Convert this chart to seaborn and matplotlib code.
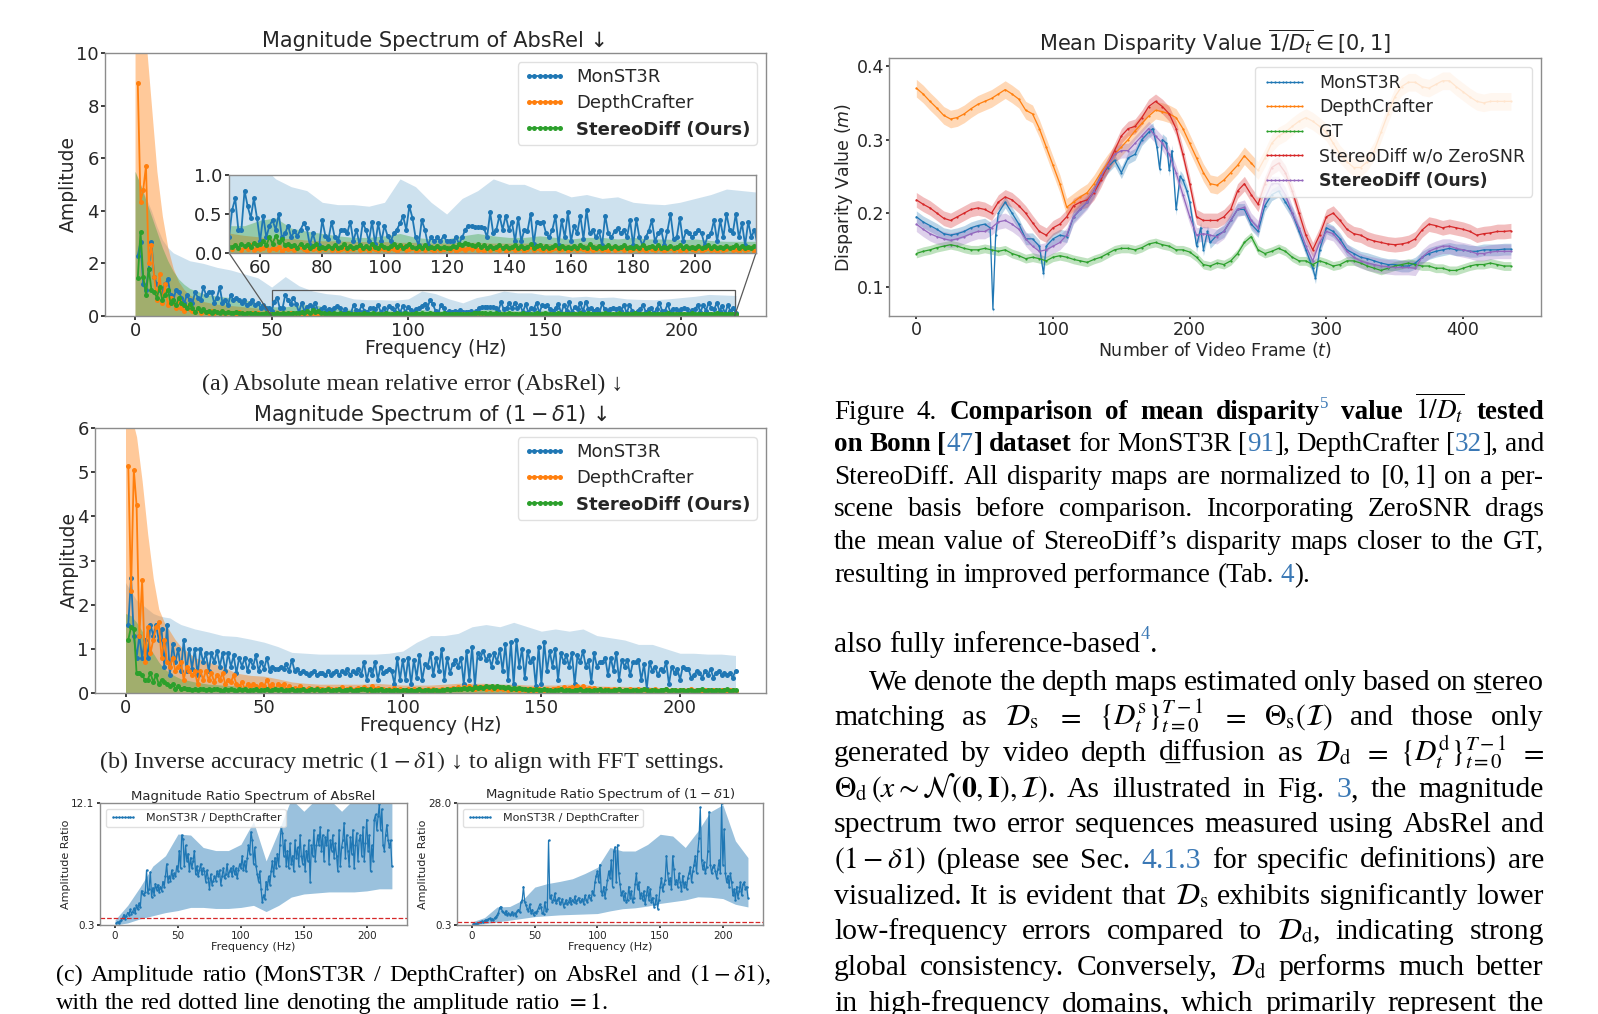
import matplotlib
matplotlib.use("Agg")
import matplotlib.pyplot as plt
import seaborn as sns
from matplotlib.ticker import FormatStrFormatter
from mpl_toolkits.axes_grid1.inset_locator import mark_inset

# ------------------------------------------------------------------ data
FREQ = list(range(1, 221))
BAND_FREQ = [0, 2, 4, 6, 8, 10, 12, 14, 16, 18, 20] + list(range(25, 221, 5))
RATIO_BAND_FREQ = list(range(0, 221, 10))

MONST3R_ABSREL = [
    2.3, 2.8, 1.2, 1.0, 1.8, 2.8, 1.5, 1.2, 1.0, 0.9,
    1.2, 1.4, 0.8, 0.6, 1.0, 0.9, 0.7, 0.5, 0.8, 0.6,
    0.5, 0.9, 0.7, 0.6, 1.1, 0.8, 0.9, 0.9, 0.5, 0.7,
    1.1, 0.5, 0.6, 0.4, 0.8, 0.6, 0.7, 0.6, 0.5, 0.6,
    0.4, 0.5, 0.6, 0.4, 0.5, 0.3, 0.4, 0.3, 0.3,
    0.2, 0.55, 0.7, 0.3, 0.3, 0.8, 0.6, 0.45, 0.7, 0.45,
    0.15, 0.48, 0.2, 0.35, 0.42, 0.3, 0.5, 0.2, 0.25, 0.35,
    0.2, 0.28, 0.22, 0.3, 0.38, 0.32, 0.1, 0.25, 0.1, 0.1,
    0.42, 0.22, 0.18, 0.4, 0.2, 0.15, 0.3, 0.3, 0.25, 0.4,
    0.15, 0.3, 0.1, 0.38, 0.3, 0.15, 0.4, 0.12, 0.38, 0.15,
    0.35, 0.22, 0.15, 0.25, 0.3, 0.38, 0.47, 0.3, 0.6, 0.45,
    0.2, 0.1, 0.42, 0.3, 0.1, 0.2, 0.15, 0.2, 0.15, 0.22,
    0.15, 0.15, 0.15, 0.2, 0.12, 0.2, 0.3, 0.35, 0.35, 0.33,
    0.33, 0.33, 0.32, 0.2, 0.52, 0.25, 0.3, 0.48, 0.3, 0.48,
    0.3, 0.4, 0.15, 0.45, 0.15, 0.3, 0.28, 0.5, 0.12, 0.4,
    0.38, 0.4, 0.25, 0.2, 0.3, 0.47, 0.1, 0.42, 0.2, 0.52,
    0.15, 0.35, 0.25, 0.48, 0.18, 0.55, 0.25, 0.3, 0.2, 0.28,
    0.1, 0.48, 0.25, 0.2, 0.28, 0.32, 0.25, 0.3, 0.2, 0.42,
    0.1, 0.43, 0.2, 0.1, 0.2, 0.28, 0.42, 0.15, 0.25, 0.3,
    0.1, 0.28, 0.5, 0.18, 0.2, 0.45, 0.15, 0.28, 0.25, 0.2,
    0.25, 0.3, 0.25, 0.1, 0.22, 0.25, 0.42, 0.15, 0.42, 0.2,
    0.5, 0.3, 0.25, 0.5, 0.2, 0.38, 0.1, 0.4, 0.2, 0.3,
    0.1]
DEPTHCRAFTER_ABSREL = [
    8.85, 4.35, 4.8, 5.7, 2.0, 2.7, 1.5, 0.6, 1.6, 0.5,
    1.2, 0.4, 0.7, 0.5, 0.3, 0.6, 0.3, 0.2, 0.35, 0.25,
    0.2, 0.15, 0.25, 0.1, 0.2, 0.15, 0.1, 0.2, 0.1, 0.15,
    0.1, 0.2, 0.08, 0.15, 0.1, 0.12, 0.08, 0.15, 0.1, 0.08,
    0.12, 0.08, 0.1, 0.06, 0.12, 0.08, 0.05, 0.1, 0.06, 0.08,
    0.05, 0.1, 0.06, 0.04, 0.08, 0.05, 0.1, 0.04, 0.07, 0.05,
    0.06, 0.09, 0.04, 0.07, 0.05, 0.08, 0.03, 0.06, 0.05, 0.07,
    0.04, 0.06, 0.08, 0.05, 0.03, 0.06, 0.05, 0.07, 0.04, 0.06,
    0.05, 0.08, 0.04, 0.06, 0.03, 0.05, 0.07, 0.04, 0.06, 0.05,
    0.08, 0.04, 0.05, 0.06, 0.03, 0.07, 0.05, 0.04, 0.06, 0.05,
    0.04, 0.07, 0.05, 0.03, 0.06, 0.08, 0.04, 0.05, 0.06, 0.03,
    0.05, 0.07, 0.04, 0.06, 0.05, 0.03, 0.06, 0.04, 0.05, 0.07,
    0.04, 0.06, 0.03, 0.05, 0.07, 0.04, 0.06, 0.05, 0.08, 0.04,
    0.05, 0.03, 0.06, 0.04, 0.07, 0.05, 0.04, 0.06, 0.03, 0.05,
    0.07, 0.04, 0.05, 0.06, 0.03, 0.05, 0.08, 0.04, 0.06, 0.05,
    0.04, 0.06, 0.03, 0.05, 0.07, 0.04, 0.05, 0.06, 0.03, 0.05,
    0.06, 0.04, 0.07, 0.05, 0.03, 0.06, 0.04, 0.05, 0.07, 0.04,
    0.05, 0.03, 0.06, 0.04, 0.05, 0.07, 0.04, 0.06, 0.03, 0.05,
    0.06, 0.04, 0.05, 0.03, 0.07, 0.05, 0.04, 0.06, 0.05, 0.03,
    0.05, 0.06, 0.04, 0.07, 0.03, 0.05, 0.04, 0.06, 0.05, 0.04,
    0.06, 0.03, 0.05, 0.07, 0.04, 0.05, 0.03, 0.06, 0.04, 0.05,
    0.07, 0.04, 0.05, 0.03, 0.06, 0.04, 0.05, 0.06, 0.03, 0.05]
STEREODIFF_ABSREL = [
    1.45, 3.2, 1.5, 0.8, 1.8, 1.0, 0.9, 0.7, 1.1, 0.6,
    0.8, 1.0, 0.5, 0.6, 0.4, 0.7, 0.5, 0.4, 0.3, 0.45,
    0.3, 0.15, 0.3, 0.2, 0.25, 0.15, 0.2, 0.12, 0.18, 0.15,
    0.12, 0.18, 0.1, 0.15, 0.12, 0.1, 0.14, 0.1, 0.12, 0.08,
    0.1, 0.12, 0.08, 0.1, 0.07, 0.09, 0.08, 0.1, 0.06, 0.08,
    0.08, 0.1, 0.07, 0.12, 0.09, 0.11, 0.08, 0.13, 0.1, 0.12,
    0.15, 0.1, 0.2, 0.12, 0.22, 0.14, 0.18, 0.1, 0.12, 0.09,
    0.1, 0.07, 0.12, 0.08, 0.1, 0.06, 0.09, 0.11, 0.07, 0.08,
    0.06, 0.09, 0.07, 0.1, 0.06, 0.08, 0.12, 0.07, 0.09, 0.06,
    0.08, 0.1, 0.06, 0.09, 0.07, 0.11, 0.08, 0.06, 0.1, 0.08,
    0.07, 0.09, 0.11, 0.08, 0.1, 0.07, 0.09, 0.12, 0.08, 0.06,
    0.09, 0.07, 0.1, 0.06, 0.08, 0.07, 0.09, 0.06, 0.08, 0.07,
    0.06, 0.09, 0.08, 0.11, 0.1, 0.13, 0.12, 0.1, 0.09, 0.11,
    0.08, 0.1, 0.07, 0.09, 0.06, 0.08, 0.1, 0.07, 0.09, 0.06,
    0.08, 0.1, 0.07, 0.09, 0.06, 0.08, 0.11, 0.07, 0.09, 0.1,
    0.07, 0.09, 0.06, 0.08, 0.1, 0.07, 0.09, 0.06, 0.08, 0.07,
    0.09, 0.06, 0.1, 0.08, 0.07, 0.11, 0.08, 0.06, 0.09, 0.07,
    0.08, 0.1, 0.06, 0.09, 0.07, 0.08, 0.1, 0.06, 0.08, 0.07,
    0.09, 0.07, 0.1, 0.06, 0.08, 0.09, 0.07, 0.1, 0.06, 0.08,
    0.07, 0.09, 0.06, 0.08, 0.1, 0.07, 0.09, 0.06, 0.08, 0.07,
    0.09, 0.06, 0.08, 0.1, 0.07, 0.09, 0.06, 0.08, 0.07, 0.09,
    0.06, 0.08, 0.1, 0.07, 0.09, 0.06, 0.08, 0.07, 0.09, 0.08]
BAND_MONST3R_ABSREL = [5.5, 5.0, 4.5, 4.0, 3.4, 2.9, 2.6, 2.4, 2.3, 2.2, 2.1,
    2.0, 1.85, 1.75, 1.6, 1.45, 1.1, 1.5, 1.15, 0.95, 0.85,
    0.8, 0.65, 0.62, 0.62, 0.6, 0.65, 0.95, 0.85, 0.65, 0.5,
    0.7, 0.8, 0.95, 0.88, 0.88, 0.8, 0.8, 0.72, 0.75, 0.7,
    0.72, 0.65, 0.63, 0.62, 0.65, 0.7, 0.75, 0.82, 0.8, 0.78]
BAND_DEPTHCRAFTER_ABSREL = [14.0, 12.5, 10.5, 8.0, 5.5, 3.8, 2.6, 1.8, 1.3, 1.0, 0.8,
    0.55, 0.45, 0.4, 0.35, 0.3, 0.25, 0.22, 0.2, 0.18, 0.18,
    0.16, 0.15, 0.15, 0.14, 0.14, 0.14, 0.13, 0.13, 0.12, 0.12,
    0.13, 0.13, 0.12, 0.12, 0.12, 0.12, 0.11, 0.11, 0.11, 0.11,
    0.1, 0.1, 0.1, 0.1, 0.1, 0.1, 0.1, 0.1, 0.1, 0.1]
BAND_STEREODIFF_ABSREL = [5.5, 5.0, 4.4, 3.8, 3.2, 2.6, 2.1, 1.7, 1.4, 1.2, 1.05,
    0.85, 0.75, 0.7, 0.62, 0.5, 0.35, 0.35, 0.42, 0.45, 0.32,
    0.28, 0.25, 0.22, 0.2, 0.2, 0.22, 0.25, 0.2, 0.18, 0.18,
    0.22, 0.25, 0.22, 0.2, 0.2, 0.22, 0.2, 0.18, 0.2, 0.2,
    0.18, 0.2, 0.18, 0.18, 0.17, 0.18, 0.16, 0.15, 0.15, 0.15]

MONST3R_D1 = [
    1.55, 2.6, 1.3, 0.8, 1.3, 0.8, 1.2, 0.8, 1.55, 1.3,
    1.55, 1.2, 1.45, 0.6, 1.55, 0.4, 1.1, 0.7, 1.0, 0.5,
    1.2, 0.5, 1.0, 0.55, 1.0, 0.4, 1.0, 0.7, 0.9, 0.5,
    0.9, 0.7, 0.95, 0.6, 0.9, 0.5, 0.9, 0.6, 0.85, 0.45,
    0.8, 0.6, 0.8, 0.5, 0.75, 0.6, 0.85, 0.5, 0.7, 0.55,
    0.8, 0.5, 0.6, 0.55, 0.55, 0.6, 0.55, 0.65, 0.5, 0.75,
    0.5, 0.55, 0.45, 0.5, 0.45, 0.4, 0.45, 0.5, 0.4, 0.45,
    0.45, 0.4, 0.5, 0.4, 0.45, 0.5, 0.4, 0.5, 0.45, 0.55,
    0.4, 0.5, 0.45, 0.55, 0.4, 0.7, 0.3, 0.55, 0.4, 0.7,
    0.3, 0.6, 0.45, 0.5, 0.55, 0.5, 0.2, 0.8, 0.3, 0.75,
    0.3, 0.8, 0.2, 0.75, 0.35, 0.85, 0.3, 0.65, 0.6, 0.9,
    0.4, 0.8, 0.5, 1.0, 0.3, 0.8, 0.45, 0.65, 0.75, 0.6,
    0.8, 0.2, 0.95, 0.3, 1.05, 0.15, 0.9, 0.8, 0.95, 0.75,
    0.85, 0.6, 0.9, 0.7, 1.0, 0.5, 1.1, 0.3, 1.15, 0.2,
    1.2, 0.6, 1.0, 0.35, 0.95, 0.7, 0.8, 0.15, 1.05, 0.2,
    1.15, 0.5, 0.95, 0.6, 1.0, 0.3, 0.9, 0.7, 0.85, 0.6,
    0.9, 0.2, 0.85, 0.7, 0.95, 0.6, 0.75, 0.25, 0.9, 0.6,
    0.7, 0.7, 0.8, 0.4, 0.8, 0.5, 0.9, 0.3, 0.75, 0.6,
    0.75, 0.4, 0.7, 0.7, 0.75, 0.3, 0.65, 0.1, 0.7, 0.5,
    0.6, 0.4, 0.55, 0.5, 0.7, 0.2, 0.6, 0.45, 0.55, 0.3,
    0.6, 0.55, 0.55, 0.35, 0.4, 0.5, 0.45, 0.35, 0.5, 0.4,
    0.55, 0.35, 0.45, 0.5, 0.4, 0.45, 0.4, 0.45, 0.35, 0.5]
DEPTHCRAFTER_D1 = [
    5.15, 2.3, 5.05, 4.25, 1.3, 2.55, 0.7, 1.5, 0.9, 1.2,
    1.5, 1.6, 0.8, 1.2, 0.7, 0.6, 0.8, 0.5, 0.6, 0.7,
    0.3, 0.6, 0.5, 0.4, 0.5, 0.2, 0.5, 0.3, 0.5, 0.3,
    0.45, 0.25, 0.4, 0.3, 0.45, 0.2, 0.3, 0.25, 0.4, 0.2,
    0.15, 0.25, 0.1, 0.2, 0.15, 0.2, 0.15, 0.1, 0.2, 0.15,
    0.3, 0.15, 0.2, 0.1, 0.2, 0.15, 0.2, 0.1, 0.15, 0.1,
    0.12, 0.08, 0.15, 0.1, 0.07, 0.12, 0.09, 0.06, 0.11, 0.08,
    0.1, 0.07, 0.12, 0.08, 0.06, 0.1, 0.08, 0.13, 0.07, 0.09,
    0.11, 0.06, 0.09, 0.12, 0.08, 0.14, 0.1, 0.07, 0.15, 0.09,
    0.12, 0.08, 0.1, 0.06, 0.09, 0.07, 0.11, 0.06, 0.08, 0.05,
    0.07, 0.09, 0.05, 0.08, 0.06, 0.1, 0.07, 0.05, 0.09, 0.06,
    0.08, 0.05, 0.07, 0.09, 0.06, 0.1, 0.08, 0.12, 0.09, 0.13,
    0.1, 0.14, 0.11, 0.15, 0.12, 0.1, 0.14, 0.11, 0.13, 0.09,
    0.12, 0.1, 0.14, 0.08, 0.11, 0.09, 0.12, 0.07, 0.1, 0.08,
    0.09, 0.06, 0.1, 0.07, 0.08, 0.05, 0.09, 0.06, 0.08, 0.07,
    0.06, 0.09, 0.07, 0.1, 0.08, 0.11, 0.09, 0.13, 0.1, 0.12,
    0.14, 0.1, 0.16, 0.12, 0.15, 0.1, 0.12, 0.08, 0.11, 0.07,
    0.09, 0.06, 0.08, 0.1, 0.07, 0.09, 0.06, 0.08, 0.05, 0.07,
    0.06, 0.08, 0.05, 0.07, 0.09, 0.06, 0.08, 0.05, 0.07, 0.06,
    0.08, 0.05, 0.07, 0.06, 0.08, 0.05, 0.06, 0.07, 0.05, 0.06,
    0.07, 0.05, 0.06, 0.08, 0.05, 0.07, 0.06, 0.05, 0.07, 0.06,
    0.05, 0.07, 0.06, 0.05, 0.07, 0.06, 0.05, 0.06, 0.07, 0.05]
STEREODIFF_D1 = [
    1.2, 1.5, 1.45, 0.45, 0.45, 0.4, 0.3, 0.3, 0.45, 0.25,
    0.4, 0.2, 0.3, 0.25, 0.2, 0.15, 0.2, 0.1, 0.15, 0.1,
    0.12, 0.08, 0.1, 0.07, 0.09, 0.06, 0.08, 0.1, 0.07, 0.09,
    0.06, 0.08, 0.1, 0.07, 0.05, 0.08, 0.06, 0.09, 0.07, 0.05,
    0.08, 0.06, 0.09, 0.05, 0.07, 0.06, 0.08, 0.05, 0.07, 0.06,
    0.08, 0.05, 0.07, 0.09, 0.06, 0.08, 0.05, 0.07, 0.06, 0.08,
    0.05, 0.07, 0.06, 0.08, 0.05, 0.07, 0.09, 0.06, 0.08, 0.05,
    0.07, 0.06, 0.08, 0.05, 0.07, 0.06, 0.09, 0.05, 0.07, 0.06,
    0.08, 0.05, 0.07, 0.06, 0.08, 0.1, 0.06, 0.08, 0.05, 0.07,
    0.06, 0.08, 0.05, 0.07, 0.06, 0.05, 0.07, 0.06, 0.05, 0.07,
    0.06, 0.05, 0.07, 0.05, 0.06, 0.08, 0.05, 0.07, 0.06, 0.05,
    0.07, 0.06, 0.05, 0.07, 0.06, 0.08, 0.07, 0.09, 0.08, 0.1,
    0.09, 0.11, 0.1, 0.12, 0.1, 0.13, 0.11, 0.14, 0.12, 0.15,
    0.13, 0.16, 0.12, 0.15, 0.13, 0.14, 0.11, 0.13, 0.1, 0.12,
    0.09, 0.11, 0.08, 0.1, 0.07, 0.09, 0.06, 0.08, 0.07, 0.06,
    0.08, 0.06, 0.07, 0.05, 0.07, 0.06, 0.08, 0.05, 0.07, 0.06,
    0.05, 0.07, 0.06, 0.08, 0.05, 0.07, 0.06, 0.05, 0.07, 0.06,
    0.08, 0.05, 0.07, 0.06, 0.05, 0.07, 0.06, 0.08, 0.05, 0.07,
    0.06, 0.05, 0.07, 0.06, 0.05, 0.07, 0.08, 0.06, 0.05, 0.07,
    0.06, 0.05, 0.07, 0.06, 0.08, 0.05, 0.07, 0.06, 0.05, 0.07,
    0.06, 0.05, 0.07, 0.06, 0.05, 0.07, 0.06, 0.08, 0.05, 0.06,
    0.07, 0.05, 0.06, 0.07, 0.05, 0.06, 0.08, 0.05, 0.07, 0.06]
BAND_MONST3R_D1 = [2.5, 2.3, 2.1, 2.0, 1.9, 1.8, 1.75, 1.72, 1.7, 1.62, 1.55,
    1.45, 1.38, 1.3, 1.28, 1.22, 1.15, 1.05, 0.92, 0.9, 0.88,
    0.88, 0.88, 0.88, 0.88, 0.9, 0.95, 1.15, 1.3, 1.3, 1.35,
    1.5, 1.55, 1.5, 1.6, 1.5, 1.4, 1.45, 1.4, 1.45, 1.3,
    1.25, 1.2, 1.1, 1.1, 1.0, 0.9, 0.9, 0.88, 0.88, 0.85]
BAND_DEPTHCRAFTER_D1 = [6.5, 6.3, 5.8, 4.8, 3.6, 2.6, 1.9, 1.6, 1.4, 1.2, 1.05,
    0.8, 0.7, 0.6, 0.45, 0.4, 0.38, 0.32, 0.25, 0.22, 0.2,
    0.2, 0.2, 0.2, 0.22, 0.2, 0.18, 0.18, 0.18, 0.2, 0.22,
    0.22, 0.22, 0.2, 0.2, 0.18, 0.18, 0.18, 0.2, 0.2, 0.16,
    0.15, 0.15, 0.14, 0.13, 0.12, 0.12, 0.12, 0.12, 0.11, 0.1]
BAND_STEREODIFF_D1 = [1.8, 1.75, 1.6, 1.4, 1.1, 0.9, 0.7, 0.55, 0.45, 0.38, 0.32,
    0.25, 0.2, 0.18, 0.16, 0.15, 0.15, 0.15, 0.14, 0.13, 0.13,
    0.12, 0.12, 0.13, 0.12, 0.12, 0.12, 0.12, 0.12, 0.13, 0.15,
    0.18, 0.2, 0.2, 0.18, 0.14, 0.12, 0.12, 0.12, 0.11, 0.11,
    0.1, 0.1, 0.1, 0.1, 0.1, 0.1, 0.1, 0.1, 0.1, 0.1]

RATIO_ABSREL = [
    0.5, 0.6, 0.5, 0.7, 0.8, 1.0, 1.3, 0.9, 1.2, 1.5,
    1.3, 1.8, 1.4, 1.6, 1.9, 1.5, 2.2, 1.8, 2.4, 2.0,
    3.6, 3.3, 3.2, 3.5, 5.6, 3.4, 3.8, 5.4, 3.0, 3.9,
    3.2, 4.3, 3.7, 4.2, 3.5, 4.0, 3.6, 4.5, 4.0, 5.0,
    6.2, 4.5, 5.0, 4.6, 5.6, 4.8, 5.3, 5.0, 6.0, 5.5,
    7.5, 5.8, 9.0, 8.6, 6.0, 8.0, 6.5, 7.2, 5.5, 6.8,
    5.8, 6.5, 7.5, 5.2, 6.0, 5.0, 5.6, 6.2, 5.2, 5.8,
    5.5, 4.5, 5.6, 4.8, 3.8, 5.2, 4.2, 4.6, 5.0, 4.6,
    5.5, 5.0, 5.6, 4.2, 5.0, 5.8, 4.8, 5.2, 6.2, 5.0,
    5.5, 5.8, 5.0, 6.0, 5.2, 5.8, 4.8, 5.6, 6.2, 5.8,
    7.0, 5.6, 6.5, 5.5, 6.8, 8.0, 7.2, 9.3, 8.5, 6.2,
    7.8, 6.0, 5.2, 4.5, 5.5, 3.8, 2.5, 3.2, 2.8, 4.5,
    3.8, 5.0, 4.2, 5.5, 6.5, 5.0, 6.8, 5.8, 7.2, 6.0,
    8.0, 9.8, 9.2, 7.0, 8.5, 6.0, 7.5, 5.8, 8.2, 6.2,
    7.0, 5.5, 8.5, 6.8, 7.8, 6.0, 9.0, 7.0, 6.2, 8.0,
    5.5, 7.5, 6.5, 8.5, 4.5, 8.0, 7.0, 9.5, 6.5, 8.0,
    9.0, 8.0, 9.8, 7.5, 9.0, 6.5, 8.8, 8.0, 9.5, 6.2,
    8.5, 7.5, 9.0, 6.8, 8.2, 7.0, 5.5, 9.5, 6.0, 7.8,
    8.5, 10.2, 6.8, 9.0, 7.5, 6.0, 8.8, 7.2, 9.5, 5.8,
    8.0, 9.2, 6.5, 8.5, 9.0, 7.0, 9.8, 6.5, 8.2, 10.5,
    7.5, 9.0, 5.5, 8.0, 6.5, 10.5, 11.0, 9.5, 10.8, 12.0,
    9.5, 11.5, 8.0, 7.5, 9.0, 10.0, 8.5, 7.8, 8.5, 6.0]
RATIO_ABSREL_LOW = [0.3, 0.5, 0.9, 1.2, 1.5, 1.7, 2.0, 2.0, 1.9, 1.9, 2.0, 2.2,
    1.6, 2.2, 3.0, 3.3, 3.4, 3.5, 3.5, 3.5, 3.6, 3.8, 3.8]
RATIO_ABSREL_HIGH = [0.8, 2.2, 4.0, 6.0, 7.0, 9.1, 9.0, 7.8, 7.5, 7.5, 8.1, 10.3,
    6.5, 9.4, 12.5, 11.3, 12.5, 12.5, 11.3, 12.5, 12.5, 12.5, 12.5]

RATIO_D1 = [
    0.5, 0.6, 0.6, 0.7, 0.8, 0.9, 1.0, 1.2, 1.0, 1.3,
    1.5, 1.4, 1.6, 1.8, 1.5, 1.7, 1.4, 1.9, 2.2, 2.5,
    3.0, 4.2, 4.5, 3.5, 3.2, 2.8, 3.5, 2.5, 3.0, 2.6,
    2.8, 3.3, 2.6, 3.0, 2.4, 3.4, 3.8, 3.2, 5.5, 6.0,
    9.0, 5.5, 4.8, 4.0, 3.5, 5.0, 3.0, 3.8, 2.6, 3.2,
    3.0, 3.5, 4.2, 5.0, 4.5, 3.0, 2.8, 5.5, 3.5, 4.0,
    19.5, 6.5, 7.0, 5.5, 6.0, 7.5, 5.2, 6.0, 6.5, 5.0,
    5.5, 6.2, 4.5, 5.2, 6.0, 5.0, 5.5, 6.5, 5.0, 6.0,
    5.5, 6.8, 5.2, 6.0, 6.5, 5.5, 5.8, 6.2, 5.0, 7.0,
    6.0, 5.5, 7.0, 6.5, 6.0, 8.0, 7.0, 10.0, 11.5, 12.5,
    10.0, 14.0, 8.0, 7.0, 9.0, 6.5, 8.5, 10.5, 12.5, 11.0,
    15.0, 9.0, 17.0, 18.0, 10.0, 18.5, 12.0, 9.5, 7.0, 8.0,
    6.0, 7.5, 5.5, 6.0, 9.0, 6.5, 8.0, 5.5, 6.5, 9.5,
    12.0, 8.5, 10.0, 6.5, 7.5, 6.0, 8.0, 5.0, 7.0, 9.0,
    6.0, 8.5, 5.5, 6.5, 4.5, 5.0, 7.0, 4.0, 6.0, 9.0,
    11.0, 8.0, 9.5, 10.5, 16.0, 12.0, 9.5, 11.0, 8.5, 16.0,
    13.0, 9.5, 10.5, 9.0, 12.0, 10.0, 8.0, 11.5, 9.0, 10.0,
    8.5, 11.0, 12.0, 13.5, 10.0, 12.5, 14.0, 16.0, 12.0, 17.0,
    20.0, 27.0, 15.0, 13.0, 14.5, 12.0, 13.5, 17.0, 26.0, 14.0,
    12.0, 13.5, 14.0, 12.5, 11.0, 13.0, 15.0, 12.0, 28.0, 14.0,
    22.0, 12.0, 10.0, 11.5, 9.0, 12.0, 10.0, 7.0, 8.5, 6.0,
    9.0, 6.5, 8.0, 10.0, 7.0, 9.5, 10.0, 8.5, 9.0, 6.5]
RATIO_D1_LOW = [0.3, 0.6, 1.0, 1.4, 1.8, 2.2, 2.4, 2.6, 2.7, 2.8, 2.9, 3.5,
    4.0, 4.2, 4.6, 5.2, 5.6, 6.0, 6.7, 6.6, 6.3, 5.0, 4.4]
RATIO_D1_HIGH = [1.0, 2.0, 4.4, 4.5, 5.9, 8.9, 9.7, 10.2, 10.8, 12.0, 13.4, 17.9,
    17.1, 17.1, 18.6, 20.9, 20.5, 17.9, 21.6, 26.0, 27.6, 19.4, 15.6]

DISP_FRAMES = list(range(0, 440, 5))
DISP_DEPTHCRAFTER = [
    0.370, 0.362, 0.352, 0.343, 0.333, 0.328, 0.330, 0.335, 0.342, 0.348,
    0.352, 0.356, 0.362, 0.368, 0.362, 0.355, 0.340, 0.335, 0.315, 0.290,
    0.265, 0.240, 0.208, 0.215, 0.222, 0.228, 0.240, 0.255, 0.268, 0.280,
    0.290, 0.300, 0.312, 0.322, 0.332, 0.340, 0.338, 0.335, 0.330, 0.315,
    0.295, 0.275, 0.255, 0.240, 0.238, 0.245, 0.255, 0.265, 0.278, 0.268,
    0.258, 0.275, 0.295, 0.305, 0.310, 0.318, 0.325, 0.330, 0.325, 0.318,
    0.310, 0.295, 0.280, 0.270, 0.262, 0.262, 0.270, 0.285, 0.310, 0.335,
    0.358, 0.372, 0.378, 0.378, 0.372, 0.370, 0.375, 0.380, 0.380, 0.372,
    0.365, 0.358, 0.352, 0.350, 0.352, 0.352, 0.352, 0.352]
DISP_GT = [
    0.145, 0.148, 0.150, 0.153, 0.155, 0.157, 0.155, 0.152, 0.150, 0.150,
    0.152, 0.150, 0.148, 0.150, 0.145, 0.142, 0.138, 0.140, 0.138, 0.135,
    0.140, 0.142, 0.140, 0.137, 0.135, 0.133, 0.137, 0.140, 0.145, 0.150,
    0.152, 0.152, 0.150, 0.153, 0.158, 0.160, 0.157, 0.155, 0.150, 0.150,
    0.147, 0.140, 0.130, 0.128, 0.132, 0.130, 0.135, 0.145, 0.160, 0.168,
    0.150, 0.145, 0.148, 0.152, 0.148, 0.140, 0.135, 0.135, 0.130, 0.135,
    0.132, 0.128, 0.130, 0.135, 0.135, 0.132, 0.128, 0.125, 0.122, 0.125,
    0.128, 0.130, 0.132, 0.130, 0.128, 0.128, 0.125, 0.125, 0.122, 0.122,
    0.125, 0.128, 0.130, 0.130, 0.132, 0.130, 0.128, 0.128]
DISP_WO_ZEROSNR = [
    0.218, 0.212, 0.207, 0.200, 0.193, 0.190, 0.195, 0.200, 0.205, 0.207,
    0.205, 0.200, 0.215, 0.222, 0.218, 0.210, 0.200, 0.187, 0.175, 0.170,
    0.180, 0.185, 0.195, 0.210, 0.215, 0.218, 0.228, 0.245, 0.265, 0.285,
    0.305, 0.315, 0.318, 0.330, 0.345, 0.352, 0.345, 0.335, 0.315, 0.280,
    0.240, 0.195, 0.190, 0.190, 0.190, 0.195, 0.205, 0.230, 0.240, 0.225,
    0.212, 0.240, 0.262, 0.268, 0.255, 0.230, 0.200, 0.170, 0.150, 0.170,
    0.195, 0.200, 0.190, 0.178, 0.172, 0.170, 0.165, 0.162, 0.160, 0.158,
    0.157, 0.158, 0.160, 0.165, 0.177, 0.185, 0.183, 0.180, 0.182, 0.180,
    0.178, 0.175, 0.170, 0.172, 0.173, 0.175, 0.175, 0.176]
DISP_OURS = [
    0.185, 0.178, 0.172, 0.168, 0.165, 0.163, 0.165, 0.168, 0.172, 0.175,
    0.175, 0.180, 0.188, 0.190, 0.185, 0.178, 0.165, 0.155, 0.148, 0.150,
    0.155, 0.160, 0.170, 0.195, 0.205, 0.215, 0.230, 0.250, 0.265, 0.280,
    0.285, 0.285, 0.295, 0.305, 0.315, 0.305, 0.295, 0.280, 0.255, 0.225,
    0.195, 0.170, 0.172, 0.170, 0.168, 0.175, 0.190, 0.205, 0.208, 0.190,
    0.180, 0.220, 0.240, 0.240, 0.225, 0.200, 0.180, 0.155, 0.135, 0.160,
    0.175, 0.172, 0.160, 0.148, 0.140, 0.135, 0.132, 0.130, 0.128, 0.127,
    0.126, 0.126, 0.126, 0.125, 0.140, 0.148, 0.152, 0.155, 0.155, 0.152,
    0.150, 0.148, 0.145, 0.145, 0.147, 0.148, 0.148, 0.148]
MONST3R_FRAMES = [0, 5, 10, 15, 20, 25, 30, 35, 40, 45, 50, 54, 56, 58, 60, 65, 70,
    75, 80, 85, 90, 93, 95, 100, 105, 110, 115, 120, 125, 130, 135, 140, 145,
    150, 155, 160, 165, 170, 173, 176, 178, 180, 183, 185, 187, 190, 193, 195,
    198, 200, 205, 208, 210, 213, 215, 220, 225, 230, 235, 240, 245, 250, 255,
    260, 265, 270, 275, 280, 285, 290, 292, 295, 300, 305, 310, 315, 320, 325,
    330, 335, 340, 345, 350, 355, 360, 365, 370, 375, 380, 385, 390, 395, 400,
    405, 410, 415, 420, 425, 430, 435]
DISP_MONST3R = [0.195, 0.188, 0.183, 0.178, 0.172, 0.170, 0.172, 0.175, 0.180,
    0.183, 0.185, 0.180, 0.070, 0.170, 0.200, 0.215, 0.200, 0.185, 0.165, 0.165,
    0.155, 0.118, 0.155, 0.165, 0.170, 0.168, 0.195, 0.205, 0.215, 0.230, 0.250,
    0.262, 0.272, 0.255, 0.275, 0.280, 0.300, 0.310, 0.315, 0.290, 0.260, 0.300,
    0.295, 0.258, 0.285, 0.205, 0.250, 0.245, 0.230, 0.215, 0.155, 0.180, 0.150,
    0.175, 0.160, 0.170, 0.175, 0.190, 0.205, 0.205, 0.185, 0.175, 0.210, 0.225,
    0.230, 0.215, 0.200, 0.175, 0.150, 0.125, 0.112, 0.150, 0.180, 0.175, 0.165,
    0.150, 0.145, 0.140, 0.138, 0.135, 0.132, 0.130, 0.130, 0.128, 0.128, 0.132,
    0.140, 0.145, 0.148, 0.150, 0.152, 0.150, 0.150, 0.148, 0.148, 0.150, 0.150,
    0.150, 0.151, 0.151]
DISP_SPREAD = {"MonST3R": 0.008, "DepthCrafter": 0.012, "GT": 0.006,
               "StereoDiff w/o ZeroSNR": 0.010, "StereoDiff (Ours)": 0.010}

SPEC_LABELS = ["MonST3R", "DepthCrafter", "StereoDiff (Ours)"]

# ------------------------------------------------------------------ style
sns.set_theme(style="ticks", rc={
    "axes.edgecolor": "0.55", "axes.linewidth": 1.0,
    "xtick.color": "0.15", "ytick.color": "0.15",
    "xtick.major.size": 3, "ytick.major.size": 3,
    "xtick.major.pad": 1.5, "ytick.major.pad": 1.5,
    "axes.facecolor": "white", "figure.facecolor": "white",
})
plt.rcParams["font.family"] = ["DejaVu Sans"]
plt.rcParams["mathtext.fontset"] = "dejavusans"

C = sns.color_palette("tab10")
LINK = "#3a78b5"
SERIF = ["Liberation Serif", "DejaVu Serif"]

W, H = 1598, 1014
fig = plt.figure(figsize=(W / 100, H / 100), dpi=100)


def rect(l, t, r, b):
    return [l / W, 1 - b / H, (r - l) / W, (b - t) / H]


def draw_spectrum(ax, series, bands, lw=1.3, ms=3.6, labels=True):
    alphas = [0.22, 0.42, 0.35]
    for band, col, a in zip(bands, C[:3], alphas):
        ax.fill_between(BAND_FREQ, 0, band, color=col, alpha=a, lw=0)
    for vals, col, lab in zip(series, C[:3], SPEC_LABELS):
        kw = dict(label=lab) if labels else {}
        sns.lineplot(x=FREQ, y=vals, ax=ax, color=col, lw=lw, marker="o",
                     markersize=ms, markeredgewidth=0, estimator=None,
                     sort=False, legend=False, **kw)


def spec_legend(ax, fs=13):
    leg = ax.legend(loc="upper right", numpoints=7, handlelength=2.3,
                    fontsize=fs, labelspacing=0.45, borderpad=0.35,
                    handletextpad=0.6, framealpha=0.8, edgecolor="0.85")
    leg.get_texts()[-1].set_fontweight("bold")
    return leg


# ---------------- (a) AbsRel spectrum with inset
AL, AT, AR, AB = 105, 53, 766, 316
ax_a = fig.add_axes(rect(AL, AT, AR, AB))
draw_spectrum(ax_a, [MONST3R_ABSREL, DEPTHCRAFTER_ABSREL, STEREODIFF_ABSREL],
              [BAND_MONST3R_ABSREL, BAND_DEPTHCRAFTER_ABSREL, BAND_STEREODIFF_ABSREL])
ax_a.set_xlim(-11, 231)
ax_a.set_ylim(0, 10)
ax_a.set_xticks([0, 50, 100, 150, 200])
ax_a.set_yticks([0, 2, 4, 6, 8, 10])
ax_a.tick_params(labelsize=13)
ax_a.set_xlabel("Frequency (Hz)", fontsize=13.5, labelpad=-1)
ax_a.set_ylabel("Amplitude", fontsize=13.5, labelpad=-1)
ax_a.set_title("Magnitude Spectrum of AbsRel \u2193", fontsize=15, pad=4)
spec_legend(ax_a)

IL, IT, IR, IB = 229, 175, 756, 253
axins = ax_a.inset_axes([(IL - AL) / (AR - AL), (AB - IB) / (AB - AT),
                         (IR - IL) / (AR - AL), (IB - IT) / (AB - AT)])
draw_spectrum(axins, [MONST3R_ABSREL, DEPTHCRAFTER_ABSREL, STEREODIFF_ABSREL],
              [BAND_MONST3R_ABSREL, BAND_DEPTHCRAFTER_ABSREL, BAND_STEREODIFF_ABSREL],
              labels=False)
axins.set_xlim(50, 219.5)
axins.set_ylim(0, 1.0)
axins.set_xticks([60, 80, 100, 120, 140, 160, 180, 200])
axins.set_yticks([0.0, 0.5, 1.0])
axins.yaxis.set_major_formatter(FormatStrFormatter("%.1f"))
axins.tick_params(labelsize=13)
axins.set_xlabel("")
axins.set_ylabel("")
mark_inset(ax_a, axins, loc1=3, loc2=4, fc="none", ec="0.35", lw=0.9)

# ---------------- (b) delta1 spectrum
ax_b = fig.add_axes(rect(95, 428, 766, 693))
draw_spectrum(ax_b, [MONST3R_D1, DEPTHCRAFTER_D1, STEREODIFF_D1],
              [BAND_MONST3R_D1, BAND_DEPTHCRAFTER_D1, BAND_STEREODIFF_D1])
ax_b.set_xlim(-11, 231)
ax_b.set_ylim(0, 6)
ax_b.set_xticks([0, 50, 100, 150, 200])
ax_b.set_yticks([0, 1, 2, 3, 4, 5, 6])
ax_b.tick_params(labelsize=13)
ax_b.set_xlabel("Frequency (Hz)", fontsize=13.5, labelpad=-1)
ax_b.set_ylabel("Amplitude", fontsize=13.5, labelpad=-1)
ax_b.set_title(r"Magnitude Spectrum of $(1-\delta1)$" + " \u2193", fontsize=15, pad=5)
spec_legend(ax_b)


# ---------------- (c) ratio spectra
def draw_ratio(ax, vals, low, high, top, title):
    ax.fill_between(RATIO_BAND_FREQ, low, high, color=C[0], alpha=0.45, lw=0)
    sns.lineplot(x=FREQ, y=vals, ax=ax, color=C[0], lw=0.9, marker="o",
                 markersize=1.8, markeredgewidth=0, estimator=None, sort=False,
                 label="MonST3R / DepthCrafter", legend=False)
    ax.axhline(1.0, color=C[3], ls="--", lw=0.9)
    ax.set_xlim(-12, 232)
    ax.set_ylim(0.3, top)
    ax.set_xticks([0, 50, 100, 150, 200])
    ax.set_yticks([0.3, top])
    ax.yaxis.set_major_formatter(FormatStrFormatter("%.1f"))
    ax.tick_params(labelsize=7.5, length=2.5, pad=1.5)
    ax.set_xlabel("Frequency (Hz)", fontsize=8, labelpad=1)
    ax.set_ylabel("Amplitude Ratio", fontsize=8, labelpad=0)
    ax.set_title(title, fontsize=9.5, pad=2)
    ax.legend(loc="upper left", numpoints=8, handlelength=2.4, fontsize=8,
              framealpha=0.8, edgecolor="0.85", borderpad=0.4)


ax_c1 = fig.add_axes(rect(100, 803, 407, 925))
draw_ratio(ax_c1, RATIO_ABSREL, RATIO_ABSREL_LOW, RATIO_ABSREL_HIGH, 12.1,
           "Magnitude Ratio Spectrum of AbsRel")
ax_c2 = fig.add_axes(rect(457, 803, 763, 925))
draw_ratio(ax_c2, RATIO_D1, RATIO_D1_LOW, RATIO_D1_HIGH, 28.0,
           r"Magnitude Ratio Spectrum of $(1-\delta1)$")

# ---------------- mean disparity
ax_d = fig.add_axes(rect(889, 58, 1541, 316))
disp = [("MonST3R", MONST3R_FRAMES, DISP_MONST3R, C[0]),
        ("DepthCrafter", DISP_FRAMES, DISP_DEPTHCRAFTER, C[1]),
        ("GT", DISP_FRAMES, DISP_GT, C[2]),
        ("StereoDiff w/o ZeroSNR", DISP_FRAMES, DISP_WO_ZEROSNR, C[3]),
        ("StereoDiff (Ours)", DISP_FRAMES, DISP_OURS, C[4])]
for name, fr, vals, col in disp:
    s = DISP_SPREAD[name]
    ax_d.fill_between(fr, [v - s for v in vals], [v + s for v in vals],
                      color=col, alpha=0.3, lw=0)
for name, fr, vals, col in disp:
    sns.lineplot(x=fr, y=vals, ax=ax_d, color=col, lw=0.9, marker="o",
                 markersize=1.6, markeredgewidth=0, estimator=None, sort=False,
                 label=name, legend=False)
ax_d.set_xlim(-20, 457)
ax_d.set_ylim(0.06, 0.411)
ax_d.set_xticks([0, 100, 200, 300, 400])
ax_d.set_yticks([0.1, 0.2, 0.3, 0.4])
ax_d.tick_params(labelsize=12.5, length=2.5, pad=1)
ax_d.set_xlabel(r"Number of Video Frame ($t$)", fontsize=12.5, labelpad=1)
ax_d.set_ylabel(r"Disparity Value ($m$)", fontsize=12.5, labelpad=1)
ax_d.set_title(r"Mean Disparity Value $\overline{1/D_t}\in[0,1]$", fontsize=15, pad=5)
leg = ax_d.legend(loc="upper right", numpoints=10, handlelength=2.6, fontsize=12.5,
                  labelspacing=0.38, borderpad=0.4, handletextpad=0.7,
                  framealpha=0.8, edgecolor="0.85")
leg.get_texts()[-1].set_fontweight("bold")

# ------------------------------------------------------------------ text
renderer = fig.canvas.get_renderer()
STYLE = {"n": {}, "b": {"fontweight": "bold"}, "c": {"color": LINK},
         "s": {"color": LINK, "sup": True}}


def split_words(segs):
    words = [[]]
    for txt, st in segs:
        parts = txt.split(" ")
        for i, p in enumerate(parts):
            if i > 0:
                words.append([])
            if p:
                words[-1].append((p, st))
    return [w for w in words if w]


def place_line(segs, x0, x1, yc, fs, justify=True, indent=0.0):
    fs_px = fs * 100 / 72
    base = yc + 0.30 * fs_px
    words = split_words(segs)
    objs = []
    for w in words:
        lst = []
        for txt, st in w:
            kw = dict(STYLE[st])
            sup = kw.pop("sup", False)
            col = kw.pop("color", "black")
            t = fig.text(0, 1 - base / H, txt, fontsize=fs * 0.62 if sup else fs,
                         family=SERIF, math_fontfamily="stix", color=col,
                         ha="left", va="baseline", **kw)
            if sup:
                t.set_y(1 - (base - 0.42 * fs_px) / H)
            lst.append(t)
        objs.append(lst)
    widths = [[t.get_window_extent(renderer=renderer).width for t in lst] for lst in objs]
    total = sum(sum(w) for w in widths)
    n = len(objs)
    if justify and n > 1:
        gap = (x1 - x0 - indent - total) / (n - 1)
    else:
        gap = 0.25 * fs_px
    x = x0 + indent
    for lst, ws in zip(objs, widths):
        for t, w in zip(lst, ws):
            t.set_x(x / W)
            x += w
        x += gap


CAP = 19.5
BODY = 21.3
TX0, TX1 = 834, 1544
cap_lines = [
    ([("Figure 4.  ", "n"), ("Comparison of mean disparity", "b"), ("5", "s"),
      (" value ", "b"), (r"$\overline{1/D_t}$", "n"), (" tested", "b")], 411, True),
    ([("on Bonn [", "b"), ("47", "c"), ("] dataset", "b"), (" for MonST3R [", "n"),
      ("91", "c"), ("], DepthCrafter [", "n"), ("32", "c"), ("], and", "n")], 443, True),
    ([("StereoDiff.  All disparity maps are normalized to ", "n"), (r"$[0,1]$", "n"),
      (" on a per-", "n")], 476, True),
    ([("scene basis before comparison.  Incorporating ZeroSNR drags", "n")], 508, True),
    ([("the mean value of StereoDiff\u2019s disparity maps closer to the GT,", "n")], 541, True),
    ([("resulting in improved performance (Tab. ", "n"), ("4", "c"), (").", "n")], 574, False),
]
for segs, y, just in cap_lines:
    place_line(segs, TX0, TX1, y, CAP, justify=just)

body_lines = [
    ([("also fully inference-based", "n"), ("4", "s"), (".", "n")], 643, False, 0),
    ([("We denote the depth maps estimated only based on s\u0332tereo", "n")], 681, True, 35),
    ([("matching as ", "n"), (r"$\mathcal{D}_\mathrm{s}$ $=$ $\{D_t^\mathrm{s}\}_{t=0}^{T-1}$ $=$ $\Theta_\mathrm{s}(\mathcal{I})$", "n"),
      (" and those only", "n")], 716, True, 0),
    ([("generated by video depth d\u0332iffusion as ", "n"),
      (r"$\mathcal{D}_\mathrm{d}$ $=$ $\{D_t^\mathrm{d}\}_{t=0}^{T-1}$ $=$", "n")], 752, True, 0),
    ([(r"$\Theta_\mathrm{d}\,(x\sim\mathcal{N}(\mathbf{0},\mathbf{I}),\mathcal{I})$. As illustrated in Fig. ", "n"),
      ("3", "c"), (", the magnitude", "n")], 788, True, 0),
    ([("spectrum two error sequences measured using AbsRel and", "n")], 823, True, 0),
    ([(r"$(1-\delta1)$ (please see Sec. ", "n"), ("4.1.3", "c"),
      (" for specific definitions) are", "n")], 859, True, 0),
    ([(r"visualized. It is evident that $\mathcal{D}_\mathrm{s}$ exhibits significantly lower", "n")], 895, True, 0),
    ([(r"low-frequency errors compared to $\mathcal{D}_\mathrm{d}$, indicating strong", "n")], 930, True, 0),
    ([(r"global consistency.  Conversely, $\mathcal{D}_\mathrm{d}$ performs much better", "n")], 966, True, 0),
    ([("in high-frequency domains, which primarily represent the", "n")], 1002, True, 0),
]
for segs, y, just, ind in body_lines:
    place_line(segs, TX0, TX1, y, BODY, justify=just, indent=ind)

LEFTCAP = 17.4
fig.text(413 / W, 1 - (383 + 7) / H, "(a) Absolute mean relative error (AbsRel) \u2193",
         fontsize=LEFTCAP, family=SERIF, math_fontfamily="stix", ha="center", va="baseline")
fig.text(412 / W, 1 - (761 + 7) / H,
         r"(b) Inverse accuracy metric $(1-\delta1)$" + " \u2193 to align with FFT settings.",
         fontsize=LEFTCAP, family=SERIF, math_fontfamily="stix", ha="center", va="baseline")
place_line([(r"(c) Amplitude ratio (MonST3R / DepthCrafter) on AbsRel and $(1-\delta1)$,", "n")],
           56, 771, 974, LEFTCAP, justify=True)
place_line([("with the red dotted line denoting the amplitude ratio ", "n"), (r"$=1$.", "n")],
           56, 771, 1002, LEFTCAP, justify=False)

fig.savefig("out.png", dpi=100)
